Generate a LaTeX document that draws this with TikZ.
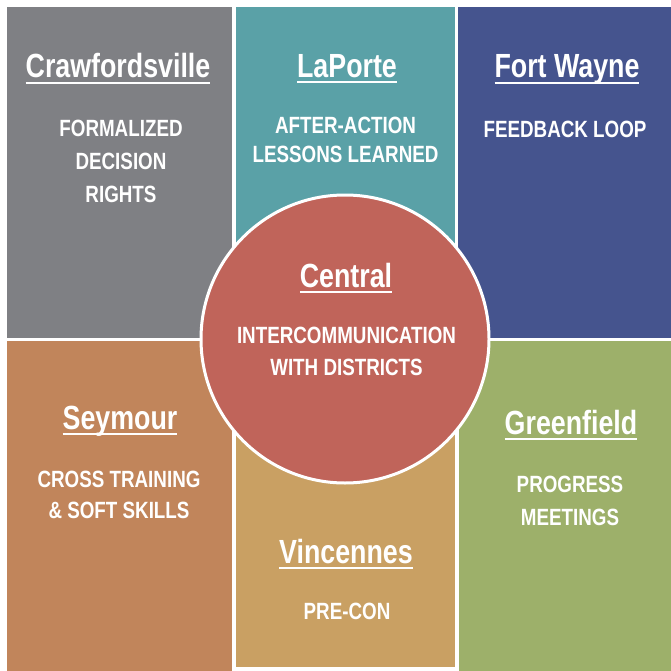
\documentclass[tikz,border=0pt]{standalone}
\usepackage{fontspec}
\newfontfamily\nar[FakeStretch=0.8]{Liberation Sans}
\definecolor{cgray}{RGB}{127,128,132}
\definecolor{cteal}{RGB}{90,161,167}
\definecolor{cblue}{RGB}{69,84,142}
\definecolor{corange}{RGB}{193,133,91}
\definecolor{ctan}{RGB}{201,160,99}
\definecolor{cgreen}{RGB}{157,176,106}
\definecolor{cred}{RGB}{192,100,90}
\newcommand{\ttlul}[1]{\setbox0\hbox{#1}\rlap{\usebox0}\rule[-5.8pt]{\wd0}{2pt}}
\begin{document}
\begin{tikzpicture}[x=1pt,y=-1pt,
  panel/.style={draw=none},
  ttl/.style={anchor=base,inner sep=0pt,text=white,font=\nar\bfseries\fontsize{33.5}{36}\selectfont},
  bod/.style={anchor=base,inner sep=0pt,text=white,font=\nar\bfseries\fontsize{23.5}{28}\selectfont}]
\useasboundingbox (0,0) rectangle (671,671);
\fill[white] (0,0) rectangle (671,671);
% panels
\fill[cgray]   (7,7)     rectangle (232,337.5);
\fill[cteal]   (235.5,7) rectangle (454.5,337.5);
\fill[cblue]   (458,7)   rectangle (671,337.5);
\fill[corange] (7,341)   rectangle (232,671);
\fill[ctan]    (235.5,341) rectangle (455,667);
\fill[cgreen]  (458.5,341) rectangle (671,671);
% circle
\node[circle,fill=cred,draw=white,line width=3pt,minimum size=288pt,inner sep=0pt] (central) at (345,339) {};
% Crawfordsville
\node[ttl] (t1) at (118,78) {\ttlul{Crawfordsville}};
\node[bod] (b1a) at (121,137) {FORMALIZED};
\node[bod] (b1b) at (121,169.5) {DECISION};
\node[bod] (b1c) at (121,202) {RIGHTS};
% LaPorte
\node[ttl] (t2) at (347,77.5) {\ttlul{LaPorte}};
\node[bod] (b2a) at (345.5,134) {AFTER-ACTION};
\node[bod] (b2b) at (345.5,163) {LESSONS LEARNED};
% Fort Wayne
\node[ttl] (t3) at (567,78) {\ttlul{Fort Wayne}};
\node[bod] (b3a) at (565,138) {FEEDBACK LOOP};
% Central
\node[ttl] (t4) at (346,287) {\ttlul{Central}};
\node[bod] (b4a) at (346.5,343) {INTERCOMMUNICATION};
\node[bod] (b4b) at (346.5,375) {WITH DISTRICTS};
% Seymour
\node[ttl] (t5) at (120,429) {\ttlul{Seymour}};
\node[bod] (b5a) at (119,487) {CROSS TRAINING};
\node[bod] (b5b) at (119,518) {\& SOFT SKILLS};
% Greenfield
\node[ttl] (t6) at (571,434) {\ttlul{Greenfield}};
\node[bod] (b6a) at (570,492) {PROGRESS};
\node[bod] (b6b) at (570,525) {MEETINGS};
% Vincennes
\node[ttl] (t7) at (346,563) {\ttlul{Vincennes}};
\node[bod] (b7a) at (347,619) {PRE-CON};
\end{tikzpicture}
\end{document}
